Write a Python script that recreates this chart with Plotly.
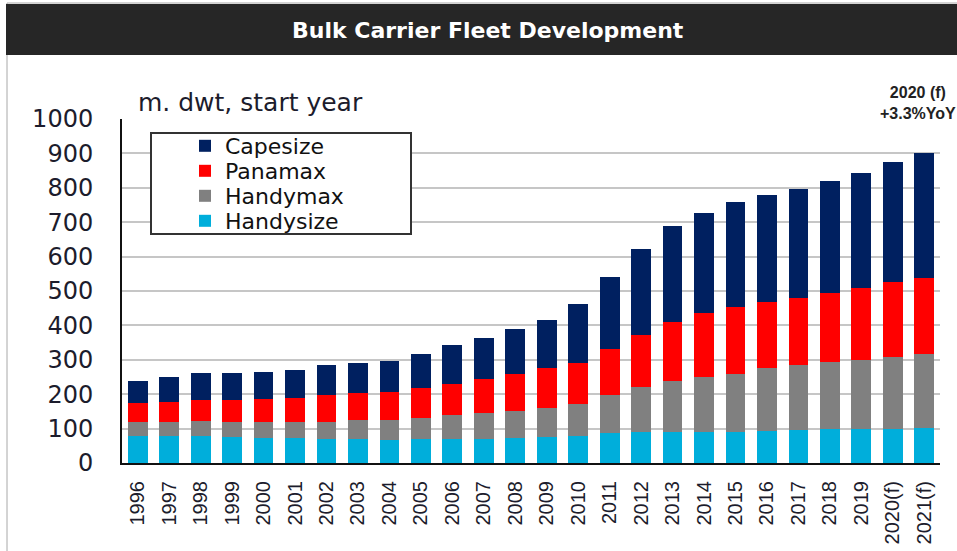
import plotly.graph_objects as go

# Fleet size by segment, million dwt at start of year
years = ["1996", "1997", "1998", "1999", "2000", "2001", "2002", "2003", "2004",
         "2005", "2006", "2007", "2008", "2009", "2010", "2011", "2012", "2013",
         "2014", "2015", "2016", "2017", "2018", "2019", "2020(f)", "2021(f)"]

handysize = [77.6, 77.6, 77.6, 75.6, 73.7, 71.8, 69.8, 68.9, 67.0, 68.5, 68.5, 70.0,
             72.0, 76.0, 79.0, 86.0, 91.5, 91.5, 91.5, 91.5, 93.5, 95.5, 97.5, 99.0,
             100.0, 102.0]
handymax = [40.4, 41.4, 44.4, 44.4, 46.3, 48.2, 50.2, 55.1, 58.0, 61.5, 70.5, 74.0,
            78.0, 84.5, 93.0, 111.5, 130.5, 147.5, 159.5, 168.5, 181.5, 188.0, 196.0,
            201.7, 208.0, 214.0]
panamax = [56.0, 57.0, 62.0, 64.0, 65.0, 69.0, 78.0, 79.0, 80.0, 87.0, 92.0, 99.0,
           108.5, 114.5, 119.5, 134.5, 151.0, 170.0, 185.5, 193.0, 194.0, 197.5, 202.1,
           207.3, 219.0, 223.0]
capesize = [65.0, 74.5, 77.0, 77.0, 80.0, 82.6, 86.0, 88.0, 92.0, 101.0, 111.0, 121.7,
            130.5, 142.0, 170.2, 209.0, 249.7, 280.6, 291.5, 307.0, 310.0, 316.0, 325.0,
            336.0, 347.0, 363.0]

y_ticks = [0, 100, 200, 300, 400, 500, 600, 700, 800, 900, 1000]

# name, values, colour, legend id, legend row centre (px from top)
series = [
    ("Handysize", handysize, "#00AEDB", "legend4", 221),
    ("Handymax", handymax, "#808080", "legend3", 196),
    ("Panamax", panamax, "#FF0000", "legend2", 171),
    ("Capesize", capesize, "#002060", "legend", 146),
]

W, H = 957, 551
ML, MR, MT, MB = 122, 17, 119, 88
PW, PH = W - ML - MR, H - MT - MB


def px(x):
    return (x - ML) / PW


def py(y):
    return (H - MB - y) / PH


fig = go.Figure()
legend_layout = {}
for name, vals, color, leg, row_y in series:
    fig.add_trace(go.Bar(x=years, y=vals, name=name, marker_color=color,
                         marker_line_width=0, legend=leg))
    legend_layout[leg] = dict(
        x=px(185), y=py(row_y), xanchor="left", yanchor="middle",
        bgcolor="rgba(0,0,0,0)", borderwidth=0,
        font=dict(family="DejaVu Sans", size=22, color="#111"),
    )

TEXT = "#1c1c2c"

fig.update_layout(
    width=W, height=H,
    margin=dict(l=ML, r=MR, t=MT, b=MB),
    paper_bgcolor="white", plot_bgcolor="white",
    barmode="stack", bargap=0.37,
    showlegend=True,
    **legend_layout,
    xaxis=dict(
        type="category", showgrid=False, showline=True, linecolor="#111",
        linewidth=2, ticks="", tickangle=-90, ticklabelstandoff=8,
        automargin=False,
        tickfont=dict(family="Liberation Sans, Arial", size=20, color=TEXT),
    ),
    yaxis=dict(
        range=[0, 1000], tickvals=y_ticks, ticktext=[str(v) for v in y_ticks],
        showgrid=True, gridcolor="#c6c6c6", gridwidth=2, zeroline=False,
        showline=True, linecolor="#111", linewidth=2, ticks="",
        ticklabelstandoff=22, automargin=False,
        tickfont=dict(family="DejaVu Sans", size=24, color=TEXT),
    ),
    shapes=[
        # panel frame
        dict(type="rect", xref="paper", yref="paper", x0=px(7), x1=px(962),
             y0=py(3), y1=py(560), line=dict(color="#a8a8a8", width=1),
             fillcolor="rgba(0,0,0,0)", layer="below"),
        # header band
        dict(type="rect", xref="paper", yref="paper", x0=px(6), x1=px(962),
             y0=py(4), y1=py(55), line=dict(width=0), fillcolor="#262626",
             layer="above"),
        # legend frame
        dict(type="rect", xref="paper", yref="paper", x0=px(151), x1=px(411),
             y0=py(133), y1=py(234), line=dict(color="#333", width=2),
             fillcolor="white", layer="above"),
    ],
    annotations=[
        dict(text="<b>Bulk Carrier Fleet Development</b>", xref="paper", yref="paper",
             x=px(488), y=py(30), xanchor="center", yanchor="middle", showarrow=False,
             font=dict(family="DejaVu Sans", size=22, color="white")),
        dict(text="m. dwt, start year", xref="paper", yref="paper",
             x=px(136), y=py(103), xanchor="left", yanchor="middle", showarrow=False,
             font=dict(family="DejaVu Sans", size=25, color=TEXT)),
        dict(text="<b>2020 (f)<br>+3.3%YoY</b>", xref="paper", yref="paper",
             x=px(918), y=py(102.5), xanchor="center", yanchor="middle",
             showarrow=False, align="center",
             font=dict(family="Liberation Sans, Arial", size=16, color="#222")),
    ],
)

fig.write_html("out.html")
